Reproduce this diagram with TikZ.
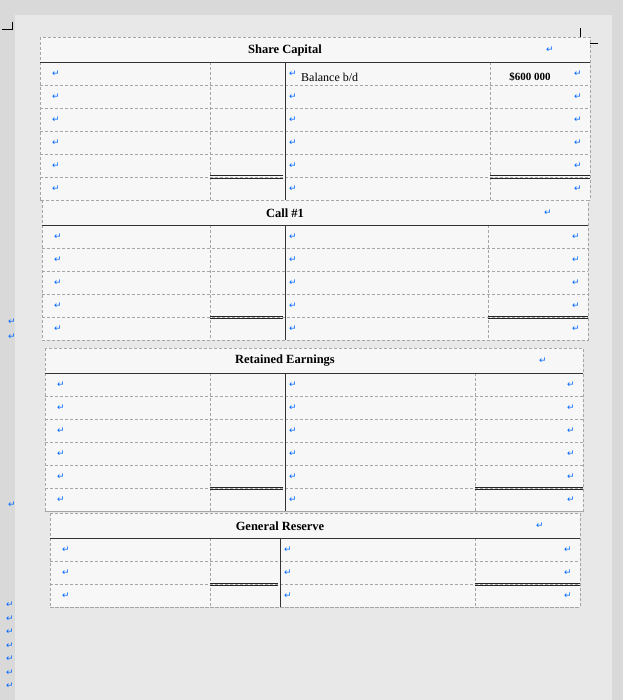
\documentclass[tikz,border=0pt]{standalone}
\usepackage{fontspec}
\setmainfont{Liberation Serif}
\newfontfamily\symf{DejaVu Sans}
\tikzset{
 cellfill/.style={fill=gray!6},
 rowline/.style={draw=gray!70,densely dashed,line width=0.5pt},
 sepline/.style={draw=black!80,line width=0.9pt},
 totline/.style={draw=black!85,line width=0.6pt},
 ttl/.style={font=\bfseries\fontsize{12.5}{14}\selectfont},
 ret/.style={text=blue!60!cyan,font=\symf\fontsize{9}{10}\selectfont,inner sep=0pt},
 txt/.style={font=\fontsize{12}{14}\selectfont,inner sep=1pt}
}
\newcommand{\tacct}[9]{%
 \pgfmathsetmacro{\yh}{#7+25}
 \pgfmathsetmacro{\yb}{#7+25+#8*23}
 \pgfmathsetmacro{\yt}{\yb-23}
 \fill[cellfill] (#2,#7) rectangle (#6,\yb);
 \draw[rowline] (#2,#7) rectangle (#6,\yb);
 \foreach \i in {1,...,#8}{\pgfmathsetmacro{\yy}{#7+25+\i*23}\draw[rowline] (#2,\yy) -- (#6,\yy);}
 \draw[rowline] (#3,\yh) -- (#3,\yb) (#5,\yh) -- (#5,\yb);
 \draw[sepline] (#2,\yh) -- (#6,\yh);
 \draw[sepline] (#4,\yh) -- (#4,\yb);
 \draw[totline] (#3,\yt-1.2) -- (#4-2,\yt-1.2) (#5,\yt-1.2) -- (#6,\yt-1.2)
   (#3,\yt+1.2) -- (#4-2,\yt+1.2) (#5,\yt+1.2) -- (#6,\yt+1.2);
 \node[ttl] (#1) at (#4,#7+13) {#9};
 \node[ret] (#1r) at (#6-40,#7+13) {↵};
 \foreach \i in {1,...,#8}{\pgfmathsetmacro{\yy}{#7+25+\i*23-11.5}
  \node[ret] (#1a\i) at (#2+16,\yy) {↵};
  \node[ret] (#1b\i) at (#4+8,\yy) {↵};
  \node[ret] (#1c\i) at (#6-12,\yy) {↵};}
}
\begin{document}
\begin{tikzpicture}[x=1pt,y=-1pt]
\fill[gray!30] (0,0) rectangle (623,700);
\fill[gray!18] (15,15) rectangle (612,700);
\useasboundingbox (0,0) rectangle (623,700);
\draw[line width=1pt] (2,30) -- (12,30) -- (12,22);
\draw[line width=1pt] (580,28) -- (580,44) -- (598,44);
\tacct{sc}{40}{210}{285}{490}{590}{37}{6}{Share Capital}
\node[txt,anchor=west] (bal) at (300,77) {Balance b/d};
\node[txt,font=\bfseries\fontsize{11}{12}\selectfont] (amt) at (530,77) {\$600 000};
\tacct{ca}{42}{210}{285}{488}{588}{200}{5}{Call \#1}
\tacct{re}{45}{210}{285}{475}{583}{348}{6}{Retained Earnings}
\tacct{gr}{50}{210}{280}{475}{580}{513}{3}{General Reserve}
\node[ret] (m1) at (12,322) {↵};
\node[ret] (m2) at (12,337) {↵};
\node[ret] (m3) at (12,505) {↵};
\foreach \k in {0,...,6}{\node[ret] (mm\k) at (10,{605+\k*13.5}) {↵};}
\end{tikzpicture}
\end{document}
